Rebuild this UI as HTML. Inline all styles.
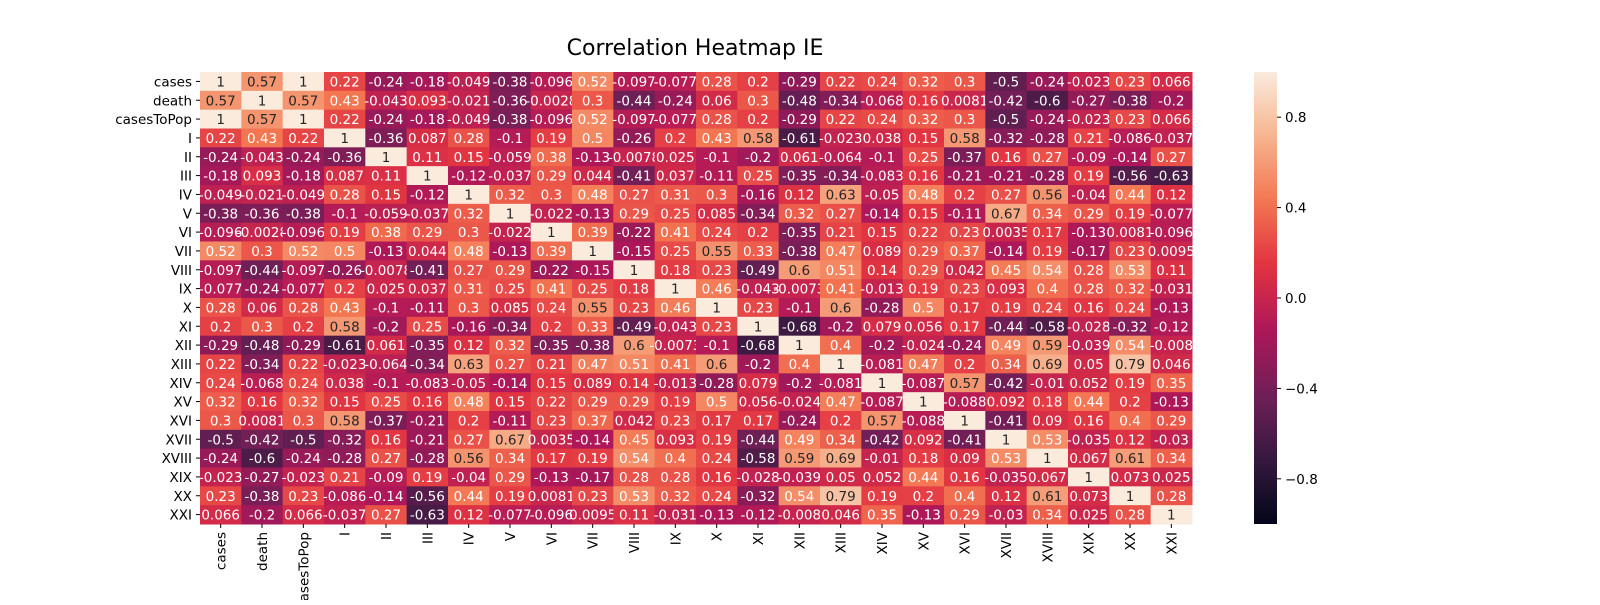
<!DOCTYPE html>
<html><head><meta charset="utf-8"><style>
body{margin:0;background:#fff;}
svg text{font-family:"DejaVu Sans","Liberation Sans",sans-serif;}
</style></head><body>
<svg id="chart" width="1600" height="600">
<text x="695" y="55" font-size="22" text-anchor="middle" fill="#000">Correlation Heatmap IE</text>
<g id="cells"></g>
<g id="ylabels"></g>
<g id="xlabels"></g>
<defs><linearGradient id="cbgrad" x1="0" y1="1" x2="0" y2="0"></linearGradient></defs>
<rect x="1254" y="72" width="23" height="452" fill="url(#cbgrad)"></rect>
<g id="cbticks"></g>
</svg>
<script>
const labels = ["cases","death","casesToPop","I","II","III","IV","V","VI","VII","VIII","IX","X","XI","XII","XIII","XIV","XV","XVI","XVII","XVIII","XIX","XX","XXI"];
const rowCases = [1,0.57,1,0.22,-0.24,-0.18,-0.049,-0.38,-0.096,0.52,-0.097,-0.077,0.28,0.2,-0.29,0.22,0.24,0.32,0.3,-0.5,-0.24,-0.023,0.23,0.066];
const rowDeath = [0.57,1,0.57,0.43,-0.043,0.093,-0.021,-0.36,-0.0028,0.3,-0.44,-0.24,0.06,0.3,-0.48,-0.34,-0.068,0.16,0.0081,-0.42,-0.6,-0.27,-0.38,-0.2];
const rowCasesToPop = [1,0.57,1,0.22,-0.24,-0.18,-0.049,-0.38,-0.096,0.52,-0.097,-0.077,0.28,0.2,-0.29,0.22,0.24,0.32,0.3,-0.5,-0.24,-0.023,0.23,0.066];
const rowI = [0.22,0.43,0.22,1,-0.36,0.087,0.28,-0.1,0.19,0.5,-0.26,0.2,0.43,0.58,-0.61,-0.023,0.038,0.15,0.58,-0.32,-0.28,0.21,-0.086,-0.037];
const rowII = [-0.24,-0.043,-0.24,-0.36,1,0.11,0.15,-0.059,0.38,-0.13,-0.0078,0.025,-0.1,-0.2,0.061,-0.064,-0.1,0.25,-0.37,0.16,0.27,-0.09,-0.14,0.27];
const rowIII = [-0.18,0.093,-0.18,0.087,0.11,1,-0.12,-0.037,0.29,0.044,-0.41,0.037,-0.11,0.25,-0.35,-0.34,-0.083,0.16,-0.21,-0.21,-0.28,0.19,-0.56,-0.63];
const rowIV = [-0.049,-0.021,-0.049,0.28,0.15,-0.12,1,0.32,0.3,0.48,0.27,0.31,0.3,-0.16,0.12,0.63,-0.05,0.48,0.2,0.27,0.56,-0.04,0.44,0.12];
const rowV = [-0.38,-0.36,-0.38,-0.1,-0.059,-0.037,0.32,1,-0.022,-0.13,0.29,0.25,0.085,-0.34,0.32,0.27,-0.14,0.15,-0.11,0.67,0.34,0.29,0.19,-0.077];
const rowVI = [-0.096,-0.0028,-0.096,0.19,0.38,0.29,0.3,-0.022,1,0.39,-0.22,0.41,0.24,0.2,-0.35,0.21,0.15,0.22,0.23,0.0035,0.17,-0.13,0.0081,-0.096];
const rowVII = [0.52,0.3,0.52,0.5,-0.13,0.044,0.48,-0.13,0.39,1,-0.15,0.25,0.55,0.33,-0.38,0.47,0.089,0.29,0.37,-0.14,0.19,-0.17,0.23,0.0095];
const rowVIII = [-0.097,-0.44,-0.097,-0.26,-0.0078,-0.41,0.27,0.29,-0.22,-0.15,1,0.18,0.23,-0.49,0.6,0.51,0.14,0.29,0.042,0.45,0.54,0.28,0.53,0.11];
const rowIX = [-0.077,-0.24,-0.077,0.2,0.025,0.037,0.31,0.25,0.41,0.25,0.18,1,0.46,-0.043,-0.0073,0.41,-0.013,0.19,0.23,0.093,0.4,0.28,0.32,-0.031];
const rowX = [0.28,0.06,0.28,0.43,-0.1,-0.11,0.3,0.085,0.24,0.55,0.23,0.46,1,0.23,-0.1,0.6,-0.28,0.5,0.17,0.19,0.24,0.16,0.24,-0.13];
const rowXI = [0.2,0.3,0.2,0.58,-0.2,0.25,-0.16,-0.34,0.2,0.33,-0.49,-0.043,0.23,1,-0.68,-0.2,0.079,0.056,0.17,-0.44,-0.58,-0.028,-0.32,-0.12];
const rowXII = [-0.29,-0.48,-0.29,-0.61,0.061,-0.35,0.12,0.32,-0.35,-0.38,0.6,-0.0073,-0.1,-0.68,1,0.4,-0.2,-0.024,-0.24,0.49,0.59,-0.039,0.54,-0.008];
const rowXIII = [0.22,-0.34,0.22,-0.023,-0.064,-0.34,0.63,0.27,0.21,0.47,0.51,0.41,0.6,-0.2,0.4,1,-0.081,0.47,0.2,0.34,0.69,0.05,0.79,0.046];
const rowXIV = [0.24,-0.068,0.24,0.038,-0.1,-0.083,-0.05,-0.14,0.15,0.089,0.14,-0.013,-0.28,0.079,-0.2,-0.081,1,-0.087,0.57,-0.42,-0.01,0.052,0.19,0.35];
const rowXV = [0.32,0.16,0.32,0.15,0.25,0.16,0.48,0.15,0.22,0.29,0.29,0.19,0.5,0.056,-0.024,0.47,-0.087,1,-0.088,0.092,0.18,0.44,0.2,-0.13];
const rowXVI = [0.3,0.0081,0.3,0.58,-0.37,-0.21,0.2,-0.11,0.23,0.37,0.042,0.23,0.17,0.17,-0.24,0.2,0.57,-0.088,1,-0.41,0.09,0.16,0.4,0.29];
const rowXVII = [-0.5,-0.42,-0.5,-0.32,0.16,-0.21,0.27,0.67,0.0035,-0.14,0.45,0.093,0.19,-0.44,0.49,0.34,-0.42,0.092,-0.41,1,0.53,-0.035,0.12,-0.03];
const rowXVIII = [-0.24,-0.6,-0.24,-0.28,0.27,-0.28,0.56,0.34,0.17,0.19,0.54,0.4,0.24,-0.58,0.59,0.69,-0.01,0.18,0.09,0.53,1,0.067,0.61,0.34];
const rowXIX = [-0.023,-0.27,-0.023,0.21,-0.09,0.19,-0.04,0.29,-0.13,-0.17,0.28,0.28,0.16,-0.028,-0.039,0.05,0.052,0.44,0.16,-0.035,0.067,1,0.073,0.025];
const rowXX = [0.23,-0.38,0.23,-0.086,-0.14,-0.56,0.44,0.19,0.0081,0.23,0.53,0.32,0.24,-0.32,0.54,0.79,0.19,0.2,0.4,0.12,0.61,0.073,1,0.28];
const rowXXI = [0.066,-0.2,0.066,-0.037,0.27,-0.63,0.12,-0.077,-0.096,0.0095,0.11,-0.031,-0.13,-0.12,-0.008,0.046,0.35,-0.13,0.29,-0.03,0.34,0.025,0.28,1];
const cbTicks = [0.8,0.4,0.0,-0.4,-0.8];
const cbTickLabels = ["0.8","0.4","0.0","\u22120.4","\u22120.8"];

const matrix = [rowCases,rowDeath,rowCasesToPop,rowI,rowII,rowIII,rowIV,rowV,rowVI,rowVII,rowVIII,rowIX,rowX,rowXI,rowXII,rowXIII,rowXIV,rowXV,rowXVI,rowXVII,rowXVIII,rowXIX,rowXX,rowXXI];
const NS='http://www.w3.org/2000/svg';
const X0=200,X1=1192,Y0=72,Y1=524;
const n=labels.length, cw=(X1-X0)/n, ch=(Y1-Y0)/n;
const xPos=i=>X0+i*cw, yPos=i=>Y0+i*ch;
const cbY=v=>Y0+(1-v)/2*(Y1-Y0);
const stops=[[0,[3,5,26]],[1/7,[0x35,0x19,0x3e]],[2/7,[0x70,0x1f,0x57]],[3/7,[0xad,0x17,0x59]],[4/7,[0xe1,0x33,0x42]],[5/7,[0xf3,0x76,0x51]],[6/7,[0xf6,0xb4,0x8f]],[1,[0xfa,0xeb,0xdd]]];
function cmap(v){let t=(v+1)/2;t=Math.max(0,Math.min(1,t));
 for(let i=1;i<stops.length;i++){if(t<=stops[i][0]){const a=stops[i-1],b=stops[i];const f=(t-a[0])/(b[0]-a[0]);
  const c=a[1].map((x,k)=>Math.round(x+(b[1][k]-x)*f));return 'rgb('+c.join(',')+')';}}
 return 'rgb(250,235,221)';}
function fmt(v){return String(v).replace('-','-');}
const gc=document.getElementById('cells');
matrix.forEach((row,r)=>row.forEach((v,c)=>{
 const rect=document.createElementNS(NS,'rect');
 rect.setAttribute('x',xPos(c));rect.setAttribute('y',yPos(r));
 rect.setAttribute('width',cw+0.5);rect.setAttribute('height',ch+0.5);
 rect.setAttribute('fill',cmap(v));
 
 
 gc.appendChild(rect);
 const t=document.createElementNS(NS,'text');
 t.setAttribute('x',xPos(c)+cw/2);t.setAttribute('y',yPos(r)+ch/2+5);
 t.setAttribute('text-anchor','middle');t.setAttribute('font-size','13.5');
 t.setAttribute('fill',v>=0.55?'#262626':'#ffffff');
 t.textContent=fmt(v);
 
 
 gc.appendChild(t);
}));
const gy=document.getElementById('ylabels'), gx=document.getElementById('xlabels');
labels.forEach((l,i)=>{
 const ty=document.createElementNS(NS,'text');
 ty.setAttribute('x',X0-8);ty.setAttribute('y',yPos(i)+ch/2+5);
 ty.setAttribute('text-anchor','end');ty.setAttribute('font-size','13.5');
 ty.textContent=l;
 
 
 gy.appendChild(ty);
 const ly=document.createElementNS(NS,'line');
 ly.setAttribute('x1',X0-4);ly.setAttribute('x2',X0);ly.setAttribute('y1',yPos(i)+ch/2);ly.setAttribute('y2',yPos(i)+ch/2);ly.setAttribute('stroke','#000');
 
 
 gy.appendChild(ly);
 const cx=xPos(i)+cw/2;
 const lx=document.createElementNS(NS,'line');
 lx.setAttribute('x1',cx);lx.setAttribute('x2',cx);lx.setAttribute('y1',Y1);lx.setAttribute('y2',Y1+4);lx.setAttribute('stroke','#000');
 
 
 gx.appendChild(lx);
 const tx=document.createElementNS(NS,'text');
 tx.setAttribute('transform','translate('+(cx+5)+','+(Y1+8)+') rotate(-90)');
 tx.setAttribute('text-anchor','end');tx.setAttribute('font-size','13.5');
 tx.textContent=l;
 
 
 gx.appendChild(tx);
});
const grad=document.getElementById('cbgrad');
for(let i=0;i<=40;i++){const s=document.createElementNS(NS,'stop');s.setAttribute('offset',i/40);s.setAttribute('stop-color',cmap(-1+2*i/40));grad.appendChild(s);}
const gt=document.getElementById('cbticks');
cbTicks.forEach((v,i)=>{
 const y=cbY(v);
 const l=document.createElementNS(NS,'line');
 l.setAttribute('x1',1277);l.setAttribute('x2',1281);l.setAttribute('y1',y);l.setAttribute('y2',y);l.setAttribute('stroke','#000');
 
 
 gt.appendChild(l);
 const t=document.createElementNS(NS,'text');
 t.setAttribute('x',1285);t.setAttribute('y',y+5);t.setAttribute('font-size','13.5');
 t.textContent=cbTickLabels[i];
 
 
 gt.appendChild(t);
});
</script>
</body></html>
